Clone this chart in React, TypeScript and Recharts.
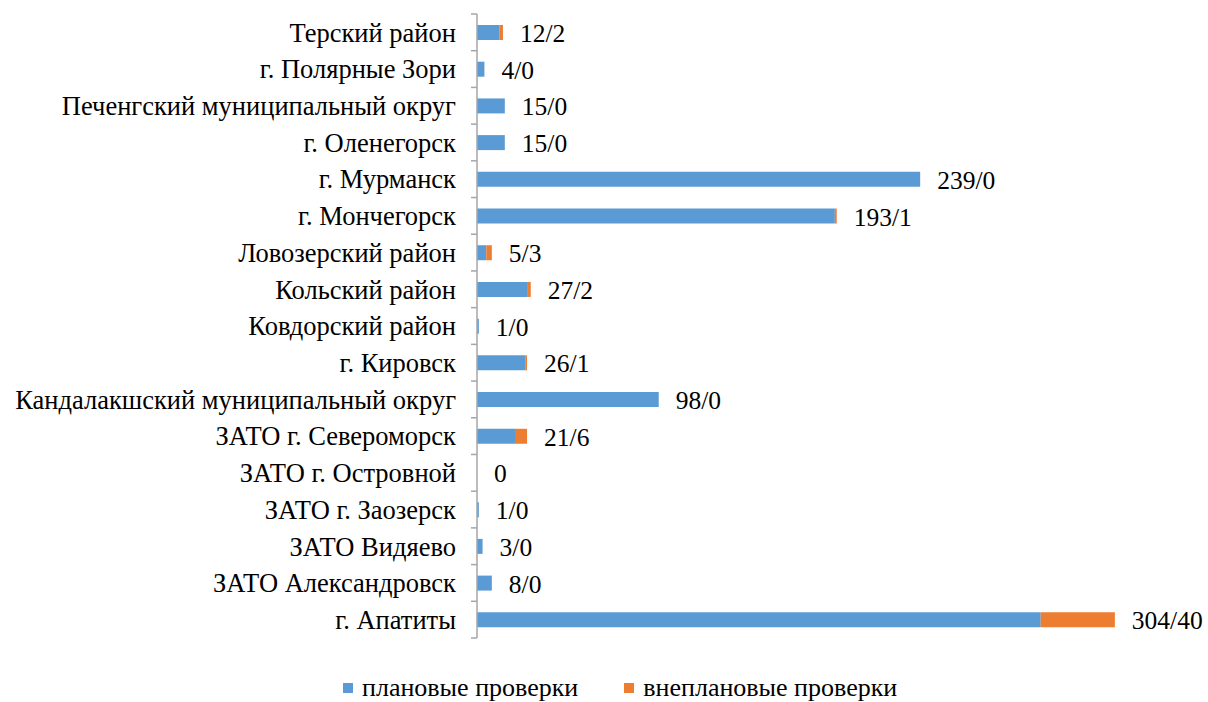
import React from 'react';
import { BarChart, Bar, XAxis, YAxis, Legend, LabelList } from 'recharts';

// Districts, top to bottom as in the report
const districts = [
  'Терский район',
  'г. Полярные Зори',
  'Печенгский муниципальный округ',
  'г. Оленегорск',
  'г. Мурманск',
  'г. Мончегорск',
  'Ловозерский район',
  'Кольский район',
  'Ковдорский район',
  'г. Кировск',
  'Кандалакшский муниципальный округ',
  'ЗАТО г. Североморск',
  'ЗАТО г. Островной',
  'ЗАТО г. Заозерск',
  'ЗАТО Видяево',
  'ЗАТО Александровск',
  'г. Апатиты',
];

const planned = [12, 4, 15, 15, 239, 193, 5, 27, 1, 26, 98, 21, 0, 1, 3, 8, 304];
const unplanned = [2, 0, 0, 0, 0, 1, 3, 2, 0, 1, 0, 6, 0, 0, 0, 0, 40];

const seriesNames = ['плановые проверки', 'внеплановые проверки'];
const seriesColors = ['#5b9bd5', '#ed7d31'];

const data = districts.map((name, i) => ({
  name,
  planned: planned[i],
  unplanned: unplanned[i],
}));

const FONT = "'Liberation Serif', 'Times New Roman', serif";
const AXIS_GREY = '#a6a6a6';
const TICK_GAP = 21;

// category label + Excel-style tick marks on the row boundaries
const CategoryTick = (props: any) => {
  const { x, y, payload, index, visibleTicksCount } = props;
  const half = Number(payload?.offset ?? 0);
  const axisX = Number(x) + TICK_GAP;
  return (
    <g>
      <text
        x={x}
        y={y}
        dy="0.35em"
        textAnchor="end"
        fontFamily={FONT}
        fontSize={26.5}
        fill="#000"
      >
        {payload.value}
      </text>
      <line x1={axisX - 6} x2={axisX} y1={y - half} y2={y - half} stroke={AXIS_GREY} strokeWidth={1.5} />
      {index === visibleTicksCount - 1 && (
        <line x1={axisX - 6} x2={axisX} y1={y + half} y2={y + half} stroke={AXIS_GREY} strokeWidth={1.5} />
      )}
    </g>
  );
};

const ValueLabel = (props: any) => {
  const { x, y, width, height, value } = props;
  const i = districts.indexOf(value);
  if (i < 0) return null;
  const p = planned[i];
  const u = unplanned[i];
  const text = p === 0 && u === 0 ? '0' : `${p}/${u}`;
  return (
    <text
      x={Number(x) + Number(width) + 17}
      y={Number(y) + Number(height) / 2 + 1}
      fontFamily={FONT}
      fontSize={25.5}
      fill="#000"
      dominantBaseline="central"
    >
      {text}
    </text>
  );
};

const LegendBox = () => (
  <div
    style={{
      display: 'flex',
      alignItems: 'center',
      paddingLeft: 343,
      fontFamily: FONT,
      fontSize: 26,
      color: '#000',
      lineHeight: '25px',
    }}
  >
    {seriesNames.map((n, i) => (
      <div key={n} style={{ display: 'flex', alignItems: 'center', marginRight: 46 }}>
        <span
          style={{
            display: 'inline-block',
            width: 10,
            height: 10,
            background: seriesColors[i],
            marginRight: 9,
          }}
        />
        <span>{n}</span>
      </div>
    ))}
  </div>
);

export default function App() {
  return (
    <div style={{ position: 'absolute', left: 0, top: 0, background: '#fff' }}>
      <BarChart
        width={1208}
        height={702}
        data={data}
        layout="vertical"
        margin={{ top: 14, right: 82, bottom: 64, left: 0 }}
      >
        <XAxis type="number" xAxisId="v" domain={[0, 350]} hide />
        <YAxis
          yAxisId="cat"
          type="category"
          dataKey="name"
          width={477}
          interval={0}
          axisLine={{ stroke: AXIS_GREY, strokeWidth: 1.5 }}
          tickLine={false}
          tickSize={0}
          tickMargin={TICK_GAP}
          tick={<CategoryTick />}
        />
        <Bar
          dataKey="planned"
          name={seriesNames[0]}
          stackId="a"
          xAxisId="v"
          yAxisId="cat"
          fill={seriesColors[0]}
          barSize={15}
          isAnimationActive={false}
        />
        <Bar
          dataKey="unplanned"
          name={seriesNames[1]}
          stackId="a"
          xAxisId="v"
          yAxisId="cat"
          fill={seriesColors[1]}
          barSize={15}
          minPointSize={0.01}
          isAnimationActive={false}
        >
          <LabelList dataKey="name" content={ValueLabel} />
        </Bar>
        <Legend
          verticalAlign="middle"
          content={LegendBox}
          wrapperStyle={{ left: 0, top: 675, width: 1208 }}
        />
      </BarChart>
    </div>
  );
}
